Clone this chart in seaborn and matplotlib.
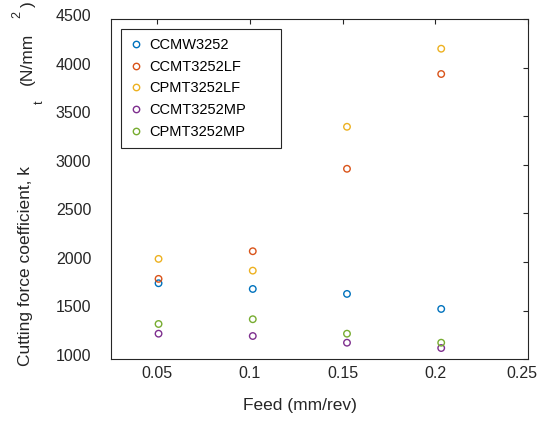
import matplotlib
matplotlib.use("Agg")
import matplotlib.pyplot as plt
import matplotlib.transforms as mtransforms
from matplotlib.lines import Line2D
import numpy as np
import pandas as pd
import seaborn as sns

# feed in mm/rev (0.002 .. 0.008 in/rev)
feed = [0.0508, 0.1016, 0.1524, 0.2032]
inserts = ["CCMW3252", "CCMT3252LF", "CPMT3252LF", "CCMT3252MP", "CPMT3252MP"]
ccmw3252 = [1781, 1722, 1671, 1516]
ccmt3252lf = [1826, 2111, 2961, 3938]
cpmt3252lf = [2032, 1911, 3394, 4199]
ccmt3252mp = [1261, 1237, 1168, 1113]
cpmt3252mp = [1361, 1410, 1261, 1168]
colors = ["#0072BD", "#D95319", "#EDB120", "#7E2F8E", "#77AC30"]
xticks = [0.05, 0.1, 0.15, 0.2, 0.25]
yticks = [1000, 1500, 2000, 2500, 3000, 3500, 4000, 4500]

series = [ccmw3252, ccmt3252lf, cpmt3252lf, ccmt3252mp, cpmt3252mp]
df = pd.DataFrame({
    "feed": feed * len(inserts),
    "kt": [v for s in series for v in s],
    "insert": [name for name in inserts for _ in feed],
})

sns.set_theme(style="white")
plt.rcParams["font.family"] = ["Liberation Sans", "DejaVu Sans"]
TXT = "#262626"

W, H = 538, 421
AX_L, AX_R, AX_T, AX_B = 110.7, 528, 19.5, 359
fig = plt.figure(figsize=(W / 100, H / 100), dpi=100)
ax = fig.add_axes([AX_L / W, 1 - AX_B / H, (AX_R - AX_L) / W, (AX_B - AX_T) / H])

sns.scatterplot(data=df, x="feed", y="kt", hue="insert", hue_order=inserts,
                palette=colors, s=22, linewidth=1.0, legend=False, ax=ax)
pts = ax.collections[0]
fc = pts.get_facecolors()
pts.set_edgecolors(fc)
pts.set_facecolors("none")

ax.set_xlim(0.025, 0.25)
ax.set_ylim(1000, 4500)
ax.set_xticks(xticks)
ax.set_xticklabels(["0.05", "0.1", "0.15", "0.2", "0.25"])
ax.set_yticks(yticks)
ax.set_yticklabels([str(v) for v in yticks])
ax.tick_params(axis="both", direction="in", length=3.5, width=0.8,
               colors=TXT, labelsize=11.5, top=True, right=True)
ax.tick_params(axis="y", pad=14)
ax.tick_params(axis="x", pad=5)
for sp in ax.spines.values():
    sp.set_visible(True)
    sp.set_color(TXT)
    sp.set_linewidth(0.8)

off = mtransforms.ScaledTranslation(0, 4 / 100, fig.dpi_scale_trans)
for lab in ax.get_yticklabels():
    lab.set_transform(lab.get_transform() + off)
# last x label sits at the figure edge; nudge it in
last = ax.get_xticklabels()[-1]
last.set_transform(last.get_transform() +
                   mtransforms.ScaledTranslation(-6 / 100, 0, fig.dpi_scale_trans))

ax.set_xlabel("Feed (mm/rev)", fontsize=12.5, color=TXT)
ax.xaxis.set_label_coords((300 - AX_L) / (AX_R - AX_L), -(398 - AX_B) / (AX_B - AX_T))
ax.set_ylabel("")

# y label pieces laid out as in the original export
def ftext(px, py, s, size):
    fig.text(px / W, 1 - py / H, s, rotation=90, ha="center", va="center",
             fontsize=size, color=TXT)

ftext(25.5, 266.5, "Cutting force coefficient, k", 12.5)
ftext(39.5, 102, "t", 9)
ftext(27.5, 59, "(N/mm", 12.5)
ftext(17, 15, "2", 9)
ftext(28.5, 4, ")", 12.5)

handles = [Line2D([], [], marker="o", linestyle="", markersize=4.6,
                  markerfacecolor="none", markeredgecolor=c, markeredgewidth=1.0)
           for c in colors]
lx0 = (120.7 - AX_L) / (AX_R - AX_L)
lx1 = (280.7 - AX_L) / (AX_R - AX_L)
ly1 = (AX_B - 29) / (AX_B - AX_T)
leg = ax.legend(handles, inserts, loc="upper left", mode="expand",
                bbox_to_anchor=(lx0, ly1 - 0.2, lx1 - lx0, 0.2),
                borderaxespad=0, fontsize=10.5, frameon=True, fancybox=False,
                framealpha=1, edgecolor=TXT, handlelength=0.95, handletextpad=0.4,
                labelspacing=0.54, borderpad=0.6)
leg.get_frame().set_linewidth(0.8)
for t in leg.get_texts():
    t.set_color("black")

fig.savefig("out.png", dpi=100)
